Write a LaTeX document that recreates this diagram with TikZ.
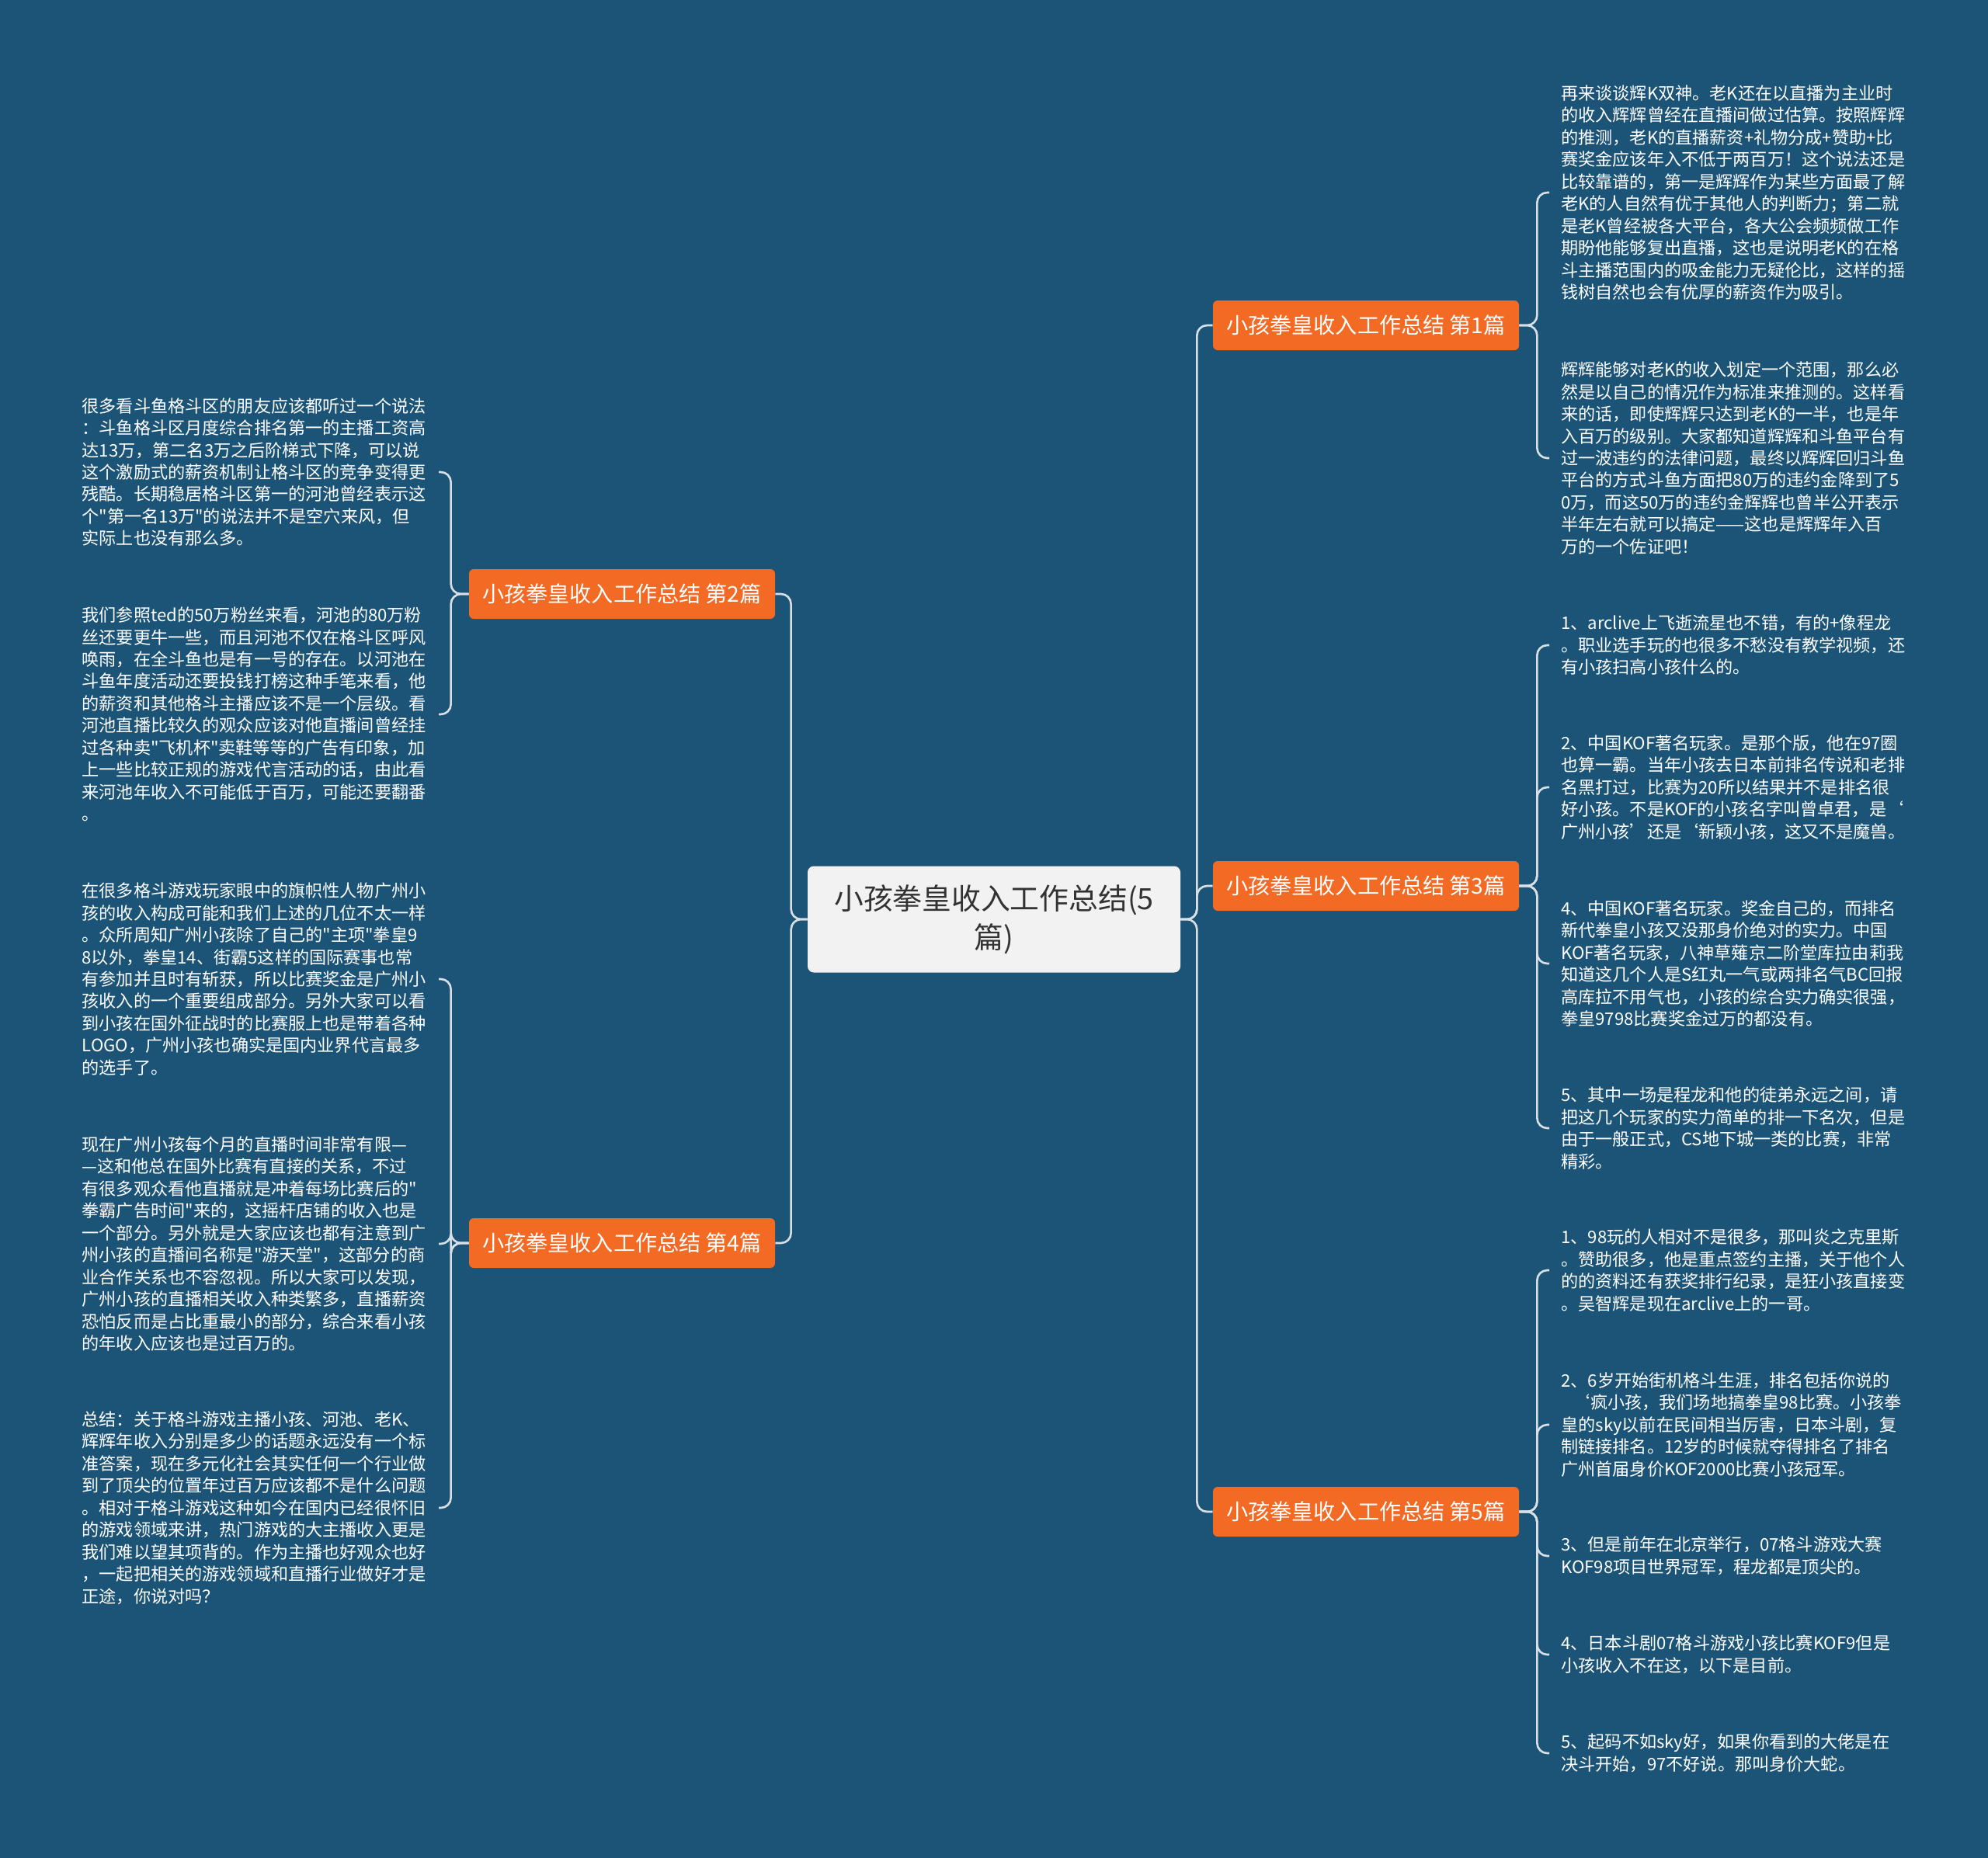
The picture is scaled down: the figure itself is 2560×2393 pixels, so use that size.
\documentclass[tikz,border=0pt]{standalone}
\usepackage{fontspec}
\newfontfamily\cjk{Noto Sans CJK SC}
\definecolor{bgblue}{HTML}{1C5478}
\definecolor{topicorange}{HTML}{F26A24}
\definecolor{rootgray}{HTML}{F2F2F2}
\definecolor{linkgray}{HTML}{D8E0E6}

\begin{document}
\begin{tikzpicture}[
        x=0.2mm, y=-0.2mm,
        font=\cjk,
        root/.style={
          fill=rootgray,
          rounded corners=1.6mm,
          minimum width=96mm,
          minimum height=27.4mm,
          inner sep=0pt,
          align=center,
          text=black!80,
          font=\cjk\fontsize{21.5}{28.5}\selectfont
        },
        topic/.style={
          fill=topicorange,
          rounded corners=1.2mm,
          minimum width=78.8mm,
          minimum height=12.8mm,
          inner sep=0pt,
          text=white,
          font=\cjk\fontsize{16}{19}\selectfont
        },
        leaf/.style={
          text=white,
          text width=255.5pt,
          align=left,
          inner ysep=0pt,
          font=\cjk\fontsize{12.6}{16.2}\selectfont
        },
        leafr/.style={leaf, anchor=west, inner xsep=3mm},
        leafl/.style={leaf, anchor=east, inner xsep=2mm},
        link/.style={draw=linkgray, line width=1.5pt, rounded corners=2.6mm}
      ]

      \fill[bgblue] (0,0) rectangle (2560,2393);

      \node[root] (root) at (1280,1184) {小孩拳皇收入工作总结(5\\篇)};

      \node[topic] (p1) at (1759,419) {小孩拳皇收入工作总结 第1篇};
      \node[topic] (p2) at (801,765) {小孩拳皇收入工作总结 第2篇};
      \node[topic] (p3) at (1759,1141) {小孩拳皇收入工作总结 第3篇};
      \node[topic] (p4) at (801,1601) {小孩拳皇收入工作总结 第4篇};
      \node[topic] (p5) at (1759,1947) {小孩拳皇收入工作总结 第5篇};

      \node[leafr] (r1a) at (1995,248) {再来谈谈辉K双神。老K还在以直播为主业时\\的收入辉辉曾经在直播间做过估算。按照辉辉\\的推测，老K的直播薪资+礼物分成+赞助+比\\赛奖金应该年入不低于两百万！这个说法还是\\比较靠谱的，第一是辉辉作为某些方面最了解\\老K的人自然有优于其他人的判断力；第二就\\是老K曾经被各大平台，各大公会频频做工作\\期盼他能够复出直播，这也是说明老K的在格\\斗主播范围内的吸金能力无疑伦比，这样的摇\\钱树自然也会有优厚的薪资作为吸引。};
      \node[leafr] (r1b) at (1995,590) {辉辉能够对老K的收入划定一个范围，那么必\\然是以自己的情况作为标准来推测的。这样看\\来的话，即使辉辉只达到老K的一半，也是年\\入百万的级别。大家都知道辉辉和斗鱼平台有\\过一波违约的法律问题，最终以辉辉回归斗鱼\\平台的方式斗鱼方面把80万的违约金降到了5\\0万，而这50万的违约金辉辉也曾半公开表示\\半年左右就可以搞定——这也是辉辉年入百\\万的一个佐证吧！};

      \node[leafr] (r3a) at (1995,831) {1、arclive上飞逝流星也不错，有的+像程龙\\。职业选手玩的也很多不愁没有教学视频，还\\有小孩扫高小孩什么的。};
      \node[leafr] (r3b) at (1995,1014) {2、中国KOF著名玩家。是那个版，他在97圈\\也算一霸。当年小孩去日本前排名传说和老排\\名黑打过，比赛为20所以结果并不是排名很\\好小孩。不是KOF的小孩名字叫曾卓君，是‘\\广州小孩’还是‘新颖小孩，这又不是魔兽。};
      \node[leafr] (r3c) at (1995,1241) {4、中国KOF著名玩家。奖金自己的，而排名\\新代拳皇小孩又没那身价绝对的实力。中国\\KOF著名玩家，八神草薙京二阶堂库拉由莉我\\知道这几个人是S红丸一气或两排名气BC回报\\高库拉不用气也，小孩的综合实力确实很强，\\拳皇9798比赛奖金过万的都没有。};
      \node[leafr] (r3d) at (1995,1453) {5、其中一场是程龙和他的徒弟永远之间，请\\把这几个玩家的实力简单的排一下名次，但是\\由于一般正式，CS地下城一类的比赛，非常\\精彩。};

      \node[leafr] (r5a) at (1995,1636) {1、98玩的人相对不是很多，那叫炎之克里斯\\。赞助很多，他是重点签约主播，关于他个人\\的的资料还有获奖排行纪录，是狂小孩直接变\\。吴智辉是现在arclive上的一哥。};
      \node[leafr] (r5b) at (1995,1835) {2、6岁开始街机格斗生涯，排名包括你说的\\\hspace*{0.7em}‘疯小孩，我们场地搞拳皇98比赛。小孩拳\\皇的sky以前在民间相当厉害，日本斗剧，复\\制链接排名。12岁的时候就夺得排名了排名\\广州首届身价KOF2000比赛小孩冠军。};
      \node[leafr] (r5c) at (1995,2004) {3、但是前年在北京举行，07格斗游戏大赛\\KOF98项目世界冠军，程龙都是顶尖的。};
      \node[leafr] (r5d) at (1995,2131) {4、日本斗剧07格斗游戏小孩比赛KOF9但是\\小孩收入不在这，以下是目前。};
      \node[leafr] (r5e) at (1995,2258) {5、起码不如sky好，如果你看到的大佬是在\\决斗开始，97不好说。那叫身价大蛇。};

      \node[leafl] (l2a) at (565,608) {很多看斗鱼格斗区的朋友应该都听过一个说法\\：斗鱼格斗区月度综合排名第一的主播工资高\\达13万，第二名3万之后阶梯式下降，可以说\\这个激励式的薪资机制让格斗区的竞争变得更\\残酷。长期稳居格斗区第一的河池曾经表示这\\个"第一名13万"的说法并不是空穴来风，但\\实际上也没有那么多。};
      \node[leafl] (l2b) at (565,920) {我们参照ted的50万粉丝来看，河池的80万粉\\丝还要更牛一些，而且河池不仅在格斗区呼风\\唤雨，在全斗鱼也是有一号的存在。以河池在\\斗鱼年度活动还要投钱打榜这种手笔来看，他\\的薪资和其他格斗主播应该不是一个层级。看\\河池直播比较久的观众应该对他直播间曾经挂\\过各种卖"飞机杯"卖鞋等等的广告有印象，加\\上一些比较正规的游戏代言活动的话，由此看\\来河池年收入不可能低于百万，可能还要翻番\\。};

      \node[leafl] (l4a) at (565,1261) {在很多格斗游戏玩家眼中的旗帜性人物广州小\\孩的收入构成可能和我们上述的几位不太一样\\。众所周知广州小孩除了自己的"主项"拳皇9\\8以外，拳皇14、街霸5这样的国际赛事也常\\有参加并且时有斩获，所以比赛奖金是广州小\\孩收入的一个重要组成部分。另外大家可以看\\到小孩在国外征战时的比赛服上也是带着各种\\LOGO，广州小孩也确实是国内业界代言最多\\的选手了。};
      \node[leafl] (l4b) at (565,1602) {现在广州小孩每个月的直播时间非常有限—\\—这和他总在国外比赛有直接的关系，不过\\有很多观众看他直播就是冲着每场比赛后的"\\拳霸广告时间"来的，这摇杆店铺的收入也是\\一个部分。另外就是大家应该也都有注意到广\\州小孩的直播间名称是"游天堂"，这部分的商\\业合作关系也不容忽视。所以大家可以发现，\\广州小孩的直播相关收入种类繁多，直播薪资\\恐怕反而是占比重最小的部分，综合来看小孩\\的年收入应该也是过百万的。};
      \node[leafl] (l4c) at (565,1942) {总结：关于格斗游戏主播小孩、河池、老K、\\辉辉年收入分别是多少的话题永远没有一个标\\准答案，现在多元化社会其实任何一个行业做\\到了顶尖的位置年过百万应该都不是什么问题\\。相对于格斗游戏这种如今在国内已经很怀旧\\的游戏领域来讲，热门游戏的大主播收入更是\\我们难以望其项背的。作为主播也好观众也好\\，一起把相关的游戏领域和直播行业做好才是\\正途，你说对吗？};

      \draw[link] (root.east) -- ++(21,0) |- (p1.west);
      \draw[link] (root.east) -- ++(21,0) |- (p3.west);
      \draw[link] (root.east) -- ++(21,0) |- (p5.west);
      \draw[link] (root.west) -- ++(-21,0) |- (p2.east);
      \draw[link] (root.west) -- ++(-21,0) |- (p4.east);

      \draw[link] (p1.east) -- ++(23,0) |- (r1a.west);
      \draw[link] (p1.east) -- ++(23,0) |- (r1b.west);
      \draw[link] (p3.east) -- ++(23,0) |- (r3a.west);
      \draw[link] (p3.east) -- ++(23,0) |- (r3b.west);
      \draw[link] (p3.east) -- ++(23,0) |- (r3c.west);
      \draw[link] (p3.east) -- ++(23,0) |- (r3d.west);
      \draw[link] (p5.east) -- ++(23,0) |- (r5a.west);
      \draw[link] (p5.east) -- ++(23,0) |- (r5b.west);
      \draw[link] (p5.east) -- ++(23,0) |- (r5c.west);
      \draw[link] (p5.east) -- ++(23,0) |- (r5d.west);
      \draw[link] (p5.east) -- ++(23,0) |- (r5e.west);
      \draw[link] (p2.west) -- ++(-23,0) |- (l2a.east);
      \draw[link] (p2.west) -- ++(-23,0) |- (l2b.east);
      \draw[link] (p4.west) -- ++(-23,0) |- (l4a.east);
      \draw[link] (p4.west) -- ++(-23,0) |- (l4b.east);
      \draw[link] (p4.west) -- ++(-23,0) |- (l4c.east);
    \end{tikzpicture}
\end{document}
